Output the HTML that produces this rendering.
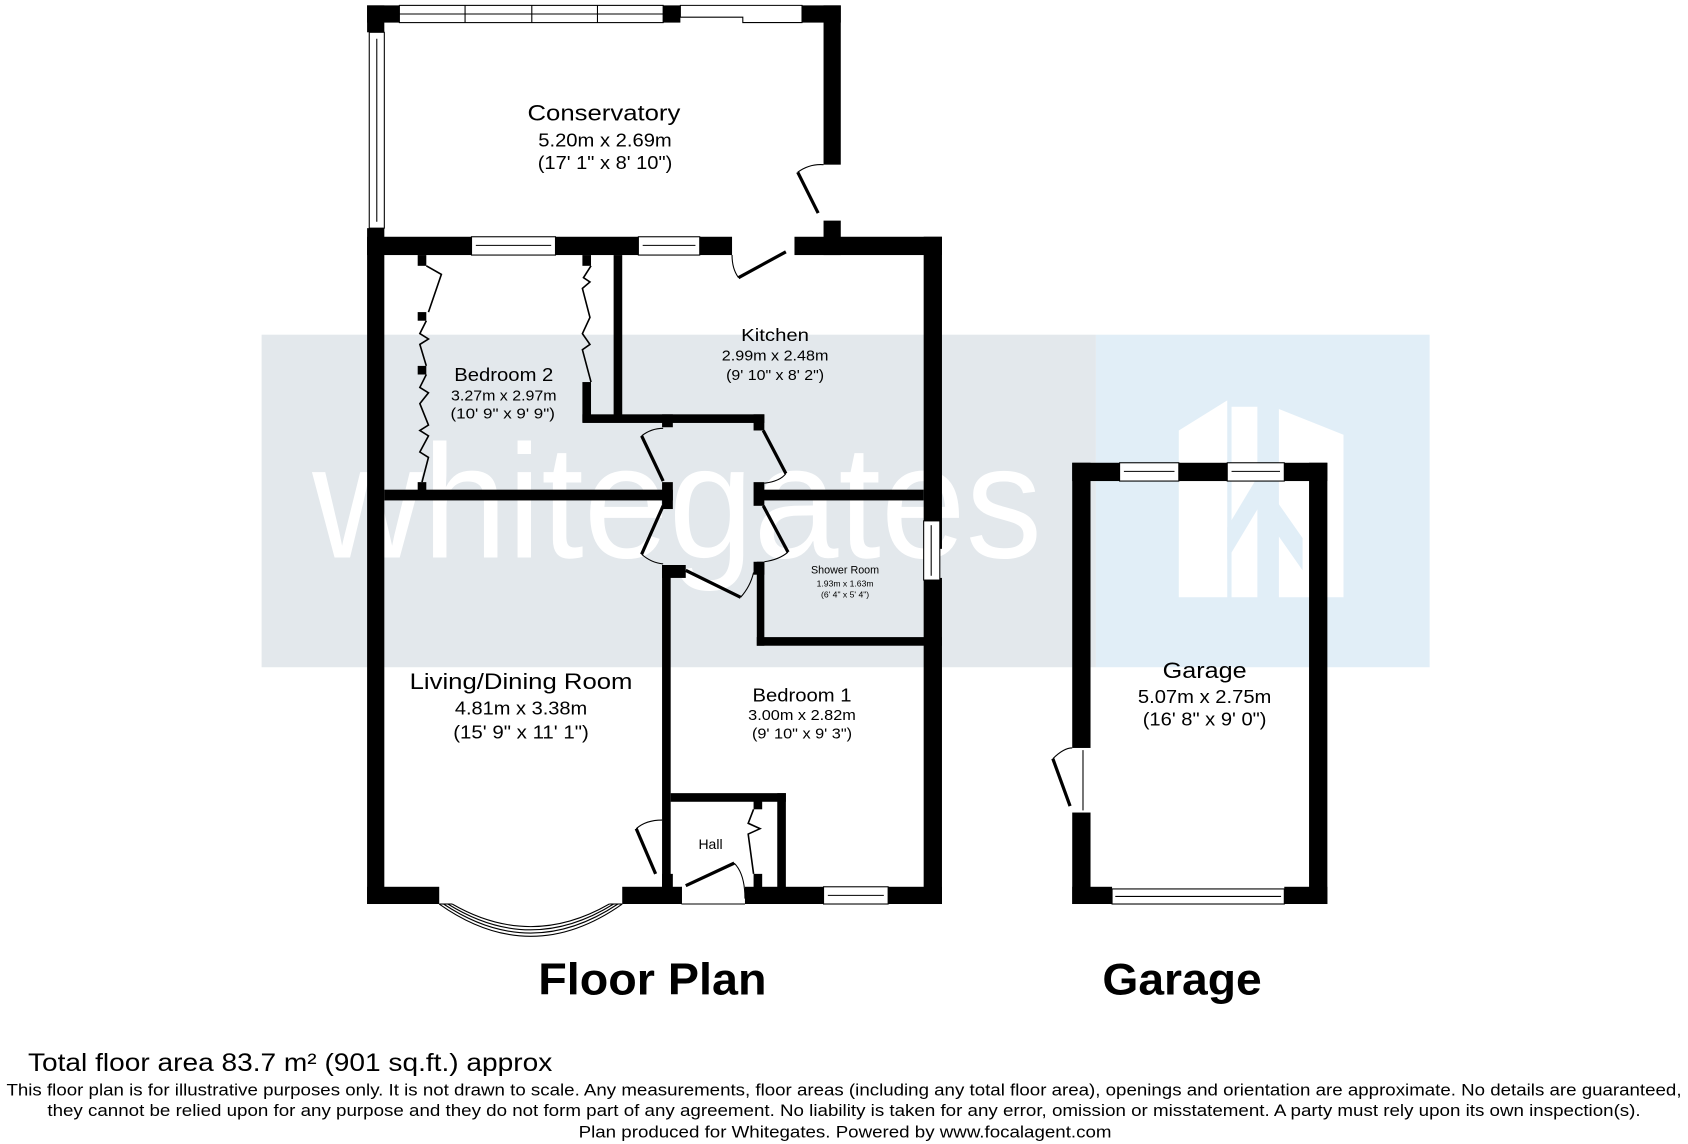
<!DOCTYPE html>
<html><head><meta charset="utf-8"><style>
html,body{margin:0;padding:0;background:#fff;}
svg{display:block;}
text{font-family:"Liberation Sans",Arial,sans-serif;fill:#000;}
</style></head><body>
<svg width="1688" height="1144" viewBox="0 0 1568 1063" preserveAspectRatio="none" xmlns="http://www.w3.org/2000/svg">
<rect width="1568" height="1063" fill="#fff"/>
<rect x="243" y="311" width="775" height="309" fill="#e3e8ec"/>
<rect x="1018" y="311" width="310" height="309" fill="#e1eef7"/>
<text x="290" y="518" font-size="150" style="fill:#fff" textLength="678" lengthAdjust="spacingAndGlyphs">whitegates</text>
<g fill="#fff">
<path d="M1095 400 L1140 372 L1140 555 L1095 555 Z"/>
<path d="M1144 378 L1168 378 L1168 555 L1144 555 Z"/>
<path d="M1188 380 L1248 404 L1248 555 L1188 555 Z"/>
<path d="M1140 490 L1170 440 L1170 470 L1140 520 Z" fill="#e1eef7"/>
<path d="M1168 440 L1210 500 L1210 530 L1168 470 Z" fill="#e1eef7"/>
</g>
<g fill="#000">
<rect x="341" y="5" width="30" height="16"/>
<rect x="616" y="5" width="16" height="16"/>
<rect x="745" y="5" width="36" height="16"/>
<rect x="341" y="5" width="16" height="25"/>
<rect x="341" y="212" width="16" height="628"/>
<rect x="765" y="5" width="16" height="148"/>
<rect x="765" y="205" width="16" height="32"/>
<rect x="341" y="220" width="97" height="17"/>
<rect x="516" y="220" width="77" height="17"/>
<rect x="650" y="220" width="30" height="17"/>
<rect x="738" y="220" width="137" height="17"/>
<rect x="858" y="220" width="17" height="290"/>
<rect x="858" y="537" width="17" height="303"/>
<rect x="341" y="824" width="67" height="16"/>
<rect x="578" y="824" width="55" height="16"/>
<rect x="692" y="824" width="73" height="16"/>
<rect x="825" y="824" width="50" height="16"/>
<rect x="357" y="455" width="268" height="10"/>
<rect x="703" y="455" width="155" height="10"/>
<rect x="570" y="237" width="8" height="155"/>
<rect x="541" y="385" width="169" height="8"/>
<rect x="541" y="355" width="8" height="37"/>
<rect x="700" y="385" width="10" height="15"/>
<rect x="615" y="385" width="10" height="12"/>
<rect x="615" y="448" width="10" height="25"/>
<rect x="700" y="448" width="10" height="22"/>
<rect x="615" y="525" width="8" height="300"/>
<rect x="615" y="525" width="22" height="12"/>
<rect x="700" y="522" width="10" height="12"/>
<rect x="703" y="522" width="7" height="78"/>
<rect x="703" y="592" width="172" height="8"/>
<rect x="623" y="737" width="107" height="8"/>
<rect x="722" y="737" width="8" height="100"/>
<rect x="700" y="744" width="8" height="8"/>
<rect x="700" y="812" width="8" height="14"/>
<rect x="615" y="812" width="10" height="14"/>
<rect x="388" y="237" width="8" height="10"/>
<rect x="388" y="290" width="8" height="8"/>
<rect x="388" y="340" width="8" height="8"/>
<rect x="388" y="448" width="8" height="10"/>
<rect x="541" y="237" width="8" height="10"/>
<rect x="996" y="430" width="44" height="17"/>
<rect x="1095" y="430" width="45" height="17"/>
<rect x="1193" y="430" width="40" height="17"/>
<rect x="996" y="430" width="17" height="265"/>
<rect x="996" y="755" width="17" height="85"/>
<rect x="1216" y="430" width="17" height="410"/>
<rect x="996" y="824" width="37" height="16"/>
<rect x="1193" y="824" width="40" height="16"/>
</g>
<g fill="#fff" stroke="#000" stroke-width="1">
<rect x="371" y="5" width="245" height="16"/>
<line x1="371" y1="13" x2="616" y2="13"/>
<line x1="432" y1="5" x2="432" y2="21"/><line x1="494" y1="5" x2="494" y2="21"/><line x1="555" y1="5" x2="555" y2="21"/>
<rect x="343" y="30" width="14" height="182"/><line x1="350" y1="36" x2="350" y2="206"/>
<rect x="438" y="220" width="78" height="17"/><line x1="442" y1="228" x2="512" y2="228"/>
<rect x="593" y="220" width="57" height="17"/><line x1="597" y1="228" x2="646" y2="228"/>
<rect x="765" y="824" width="60" height="16"/><line x1="769" y1="832" x2="821" y2="832"/>
<rect x="858" y="484" width="15" height="55"/><line x1="865" y1="488" x2="865" y2="535"/>
<rect x="1040" y="430" width="55" height="17"/><line x1="1044" y1="438" x2="1091" y2="438"/>
<rect x="1140" y="430" width="53" height="17"/><line x1="1144" y1="438" x2="1189" y2="438"/>
<rect x="1033" y="826" width="160" height="14"/><line x1="1036" y1="833" x2="1190" y2="833"/>
<path d="M632 5 H745 V21 H690 V16 H632 Z"/>
</g>
<g fill="none" stroke="#000">
<line x1="760" y1="198" x2="741" y2="160" stroke-width="3"/><path d="M741 160 Q752 152 765 153" stroke-width="1"/>
<line x1="686" y1="258" x2="730" y2="234" stroke-width="3"/><path d="M680 237 Q680 250 686 258" stroke-width="1"/>
<line x1="596" y1="405" x2="616" y2="447" stroke-width="3"/><path d="M596 405 Q605 398 616 398" stroke-width="1"/>
<line x1="709" y1="400" x2="730" y2="440" stroke-width="3"/><path d="M730 440 Q725 447 710 449" stroke-width="1"/>
<line x1="616" y1="470" x2="596" y2="515" stroke-width="3"/><path d="M596 515 Q605 523 616 524" stroke-width="1"/>
<line x1="709" y1="470" x2="732" y2="513" stroke-width="3"/><path d="M732 513 Q724 520 710 522" stroke-width="1"/>
<line x1="637" y1="530" x2="688" y2="555" stroke-width="3"/><path d="M688 555 Q697 545 700 532" stroke-width="1"/>
<line x1="609" y1="812" x2="591" y2="770" stroke-width="3"/><path d="M591 770 Q600 762 615 762" stroke-width="1"/>
<line x1="637" y1="823" x2="682" y2="802" stroke-width="3"/><path d="M682 802 Q692 812 692 835" stroke-width="1"/>
<line x1="994" y1="749" x2="978" y2="705" stroke-width="3"/><path d="M978 705 Q988 695 996 695" stroke-width="1"/><line x1="1006" y1="697" x2="1006" y2="753" stroke-width="1"/>
<path d="M396 247 L410 255 L398 290 M396 298 L390 310 L398 315 L390 320 L396 340 M396 348 L390 360 L398 365 L390 375 L398 395 L390 400 L398 405 L390 420 L398 425 L392 448" stroke-width="1.5"/>
<path d="M549 247 L542 258 L548 262 L541 268 L548 295 L541 310 L548 320 L541 325 L549 355" stroke-width="1.5"/>
<path d="M700 752 L695 765 L706 770 L695 775 L700 812" stroke-width="1.5"/>
<path d="M408 840 Q493 900 578 840" stroke-width="1"/>
<path d="M412 840 Q493 894 574 840" stroke-width="1"/>
<path d="M416 840 Q493 888 570 840" stroke-width="1"/>
<path d="M420 840 Q493 882 566 840" stroke-width="1"/>
<line x1="408" y1="840" x2="420" y2="840" stroke-width="1"/><line x1="566" y1="840" x2="578" y2="840" stroke-width="1"/>
<line x1="633" y1="840" x2="692" y2="840" stroke-width="1"/><line x1="633" y1="824" x2="633" y2="840" stroke-width="1"/>
</g>
<g text-anchor="middle" lengthAdjust="spacingAndGlyphs">
<text x="561" y="112" font-size="21" textLength="142" lengthAdjust="spacingAndGlyphs">Conservatory</text>
<text x="562" y="136" font-size="17" textLength="124" lengthAdjust="spacingAndGlyphs">5.20m x 2.69m</text>
<text x="562" y="157" font-size="17" textLength="125" lengthAdjust="spacingAndGlyphs">(17' 1" x 8' 10")</text>
<text x="720" y="317" font-size="16" textLength="63" lengthAdjust="spacingAndGlyphs">Kitchen</text>
<text x="720" y="335" font-size="14" textLength="99" lengthAdjust="spacingAndGlyphs">2.99m x 2.48m</text>
<text x="720" y="353" font-size="14" textLength="91" lengthAdjust="spacingAndGlyphs">(9' 10" x 8' 2")</text>
<text x="468" y="354" font-size="17" textLength="92" lengthAdjust="spacingAndGlyphs">Bedroom 2</text>
<text x="468" y="372" font-size="14" textLength="98" lengthAdjust="spacingAndGlyphs">3.27m x 2.97m</text>
<text x="467" y="389" font-size="14" textLength="97" lengthAdjust="spacingAndGlyphs">(10' 9" x 9' 9")</text>
<text x="785" y="533" font-size="10">Shower Room</text>
<text x="785" y="545" font-size="8">1.93m x 1.63m</text>
<text x="785" y="555" font-size="8">(6' 4" x 5' 4")</text>
<text x="484" y="640" font-size="21" textLength="207" lengthAdjust="spacingAndGlyphs">Living/Dining Room</text>
<text x="484" y="664" font-size="17" textLength="123" lengthAdjust="spacingAndGlyphs">4.81m x 3.38m</text>
<text x="484" y="686" font-size="17" textLength="126" lengthAdjust="spacingAndGlyphs">(15' 9" x 11' 1")</text>
<text x="745" y="652" font-size="17" textLength="92" lengthAdjust="spacingAndGlyphs">Bedroom 1</text>
<text x="745" y="669" font-size="14" textLength="100" lengthAdjust="spacingAndGlyphs">3.00m x 2.82m</text>
<text x="745" y="686" font-size="14" textLength="93" lengthAdjust="spacingAndGlyphs">(9' 10" x 9' 3")</text>
<text x="660" y="789" font-size="13">Hall</text>
<text x="1119" y="630" font-size="21" textLength="78" lengthAdjust="spacingAndGlyphs">Garage</text>
<text x="1119" y="653" font-size="17" textLength="124" lengthAdjust="spacingAndGlyphs">5.07m x 2.75m</text>
<text x="1119" y="674" font-size="17" textLength="115" lengthAdjust="spacingAndGlyphs">(16' 8" x 9' 0")</text>
<text x="606" y="924" font-size="41" font-weight="bold" textLength="212" lengthAdjust="spacingAndGlyphs">Floor Plan</text>
<text x="1098" y="924" font-size="41" font-weight="bold" textLength="148" lengthAdjust="spacingAndGlyphs">Garage</text>
<text x="784" y="1018" font-size="15.5" textLength="1556" lengthAdjust="spacingAndGlyphs">This floor plan is for illustrative purposes only. It is not drawn to scale. Any measurements, floor areas (including any total floor area), openings and orientation are approximate. No details are guaranteed,</text>
<text x="784" y="1037" font-size="15.5" textLength="1480" lengthAdjust="spacingAndGlyphs">they cannot be relied upon for any purpose and they do not form part of any agreement. No liability is taken for any error, omission or misstatement. A party must rely upon its own inspection(s).</text>
<text x="785" y="1057" font-size="15.5" textLength="495" lengthAdjust="spacingAndGlyphs">Plan produced for Whitegates. Powered by www.focalagent.com</text>
</g>
<text x="26" y="995" font-size="23" textLength="487" lengthAdjust="spacingAndGlyphs">Total floor area 83.7 m² (901 sq.ft.) approx</text>
</svg>
</body></html>
